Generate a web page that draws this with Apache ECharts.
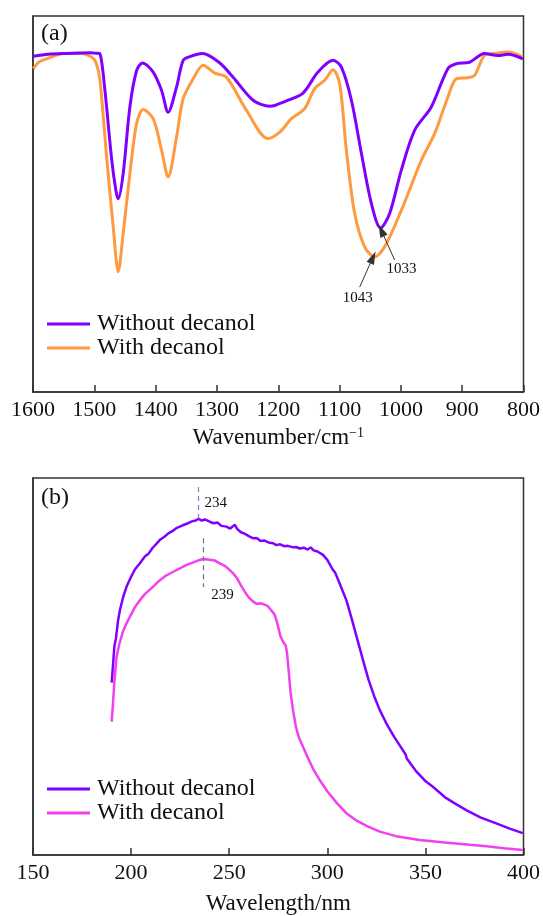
<!DOCTYPE html>
<html>
<head>
<meta charset="utf-8">
<script src="https://cdn.jsdelivr.net/npm/echarts@6/dist/echarts.min.js"></script>
<style>
html,body{margin:0;padding:0;background:#fff;}
#chart{width:543px;height:916px;}
</style>
</head>
<body>
<div id="chart"></div>
<script>
// ---- Panel (a): FTIR ----
const ftirTicks = [1600, 1500, 1400, 1300, 1200, 1100, 1000, 900, 800];
const ftirWnWithout = [1599.5,1575,1551,1507,1496,1491,1482.7,1471.8,1464.8,1461,1452.9,1442,1431,1421.3,1404,1390.3,1379.6,1365.9,1355.1,1344.2,1323.5,1295.3,1273.6,1241,1213.9,1205.7,1184,1159.6,1135.2,1110.7,1097,1080.7,1064.4,1048.2,1033,1018.3,999.3,977.6,950.4,923.4,909.7,888,863.6,841.9,825.6,801.2];
const ftirWithout   = [89.3,89.8,90.0,90.2,90.1,90.0,80.2,62.0,53.6,51.4,58.1,75.8,85.5,87.5,85.1,80.2,74.4,81.1,88.2,89.2,90.0,87.5,83.7,77.6,76.0,76.2,77.6,79.5,85.1,88.2,86.4,77.6,63.5,50.2,43.6,47.5,59.0,69.6,75.8,86.0,87.3,87.7,90.0,89.5,89.8,88.6];
const ftirWnWith = [1599.5,1590,1577.7,1550.6,1523.4,1504.4,1497,1490.8,1479.9,1469.2,1461,1452.9,1442,1431,1420.3,1404,1390.3,1379.6,1365.9,1355.1,1338.8,1322.5,1303.5,1284.4,1251.8,1216.6,1197.6,1178.5,1156.8,1140.6,1124.3,1110.7,1099.8,1088.9,1075.4,1059.1,1043,1026.5,999.3,966.7,945,923.4,909.7,890.8,879.8,863.6,847.3,825.6,801.2];
const ftirWith   = [86.0,87.8,88.6,90.0,90.1,89.1,87.5,82.9,62.5,43.9,32.0,42.2,58.1,71.4,75.1,72.7,64.3,57.2,67.8,78.0,83.3,86.9,84.8,83.7,74.9,67.4,69.1,72.7,75.4,80.7,82.9,85.7,82.0,64.3,47.5,38.6,35.9,38.6,48.3,61.6,68.7,78.4,83.3,83.6,84.2,89.5,90.0,90.4,89.1];
const ftirPeakLabels = ['1033', '1043'];

// ---- Panel (b): UV-vis ----
const uvTicks = [150, 200, 250, 300, 350, 400];
const uvWlWithout = [190.1,190.8,191.5,192.3,193.3,194.3,196,197.7,200,202,204.5,207,209,211,213,214.7,217,219,221,223,224.8,227,229,231,233,234.2,236,237.5,240.1,242,244,246,248.6,250.5,252.9,254,256,258,260,262.2,264,266,268,270,272.4,274,276,278,280,282.5,284,286,288,290,291.5,293,295,297.8,300,302.9,304,306,309.7,312,315,318.2,321,324,326.7,330,334,338,340,340.5,345,350,353.8,360,365,370.8,378,386.1,393,399.6];
const uvWithout   = [45.7,50.5,55.5,57.5,62,65.0,68.5,71.2,73.8,75.8,77.4,79.2,80.0,81.5,82.6,83.6,84.4,85.3,85.9,86.7,87.1,87.6,88.0,88.5,88.7,89.2,88.7,89.0,88.4,88.0,88.2,87.3,87.1,86.6,87.6,86.5,85.6,85.2,84.6,84.0,84.1,83.3,83.4,82.9,82.7,82.2,82.4,81.9,82.0,81.6,81.7,81.3,81.5,81.0,81.6,80.8,80.5,79.6,78.3,75.6,74.9,72.4,67.6,63.5,57.8,51.7,46.5,42.0,38.5,35.0,31.4,28.2,26.6,25.6,22.4,19.6,18.1,15.3,13.7,11.9,10.0,8.4,7.0,5.8];
const uvWlWith = [190.1,190.8,191.5,192.6,194,196,197.7,200,202,204.5,207,210,214.7,218,221,224.8,228,231,234,236.7,239,242.7,245,248,250,252,254,256,258,260,262.2,264,266,268,269.5,271,273.2,274.5,276,277.5,278.8,279.5,280.3,281.3,282.5,284,285.5,287.6,290,293,296.1,300,305,309.7,315,320,326.7,335,347,360,372.5,380,390,399.6];
const uvWith   = [35.4,40.5,46,52.6,56.0,59.5,61.5,63.8,65.8,67.6,69.2,70.6,72.9,74.2,75.0,76.0,76.9,77.5,78.1,78.5,78.4,78.1,77.4,76.6,75.7,74.7,73.4,71.5,69.8,68.3,67.2,66.6,66.8,66.4,66.1,65.2,63.7,61.5,58.2,56.5,55.6,53.5,49,43,38.5,34.0,31.2,28.7,25.9,22.6,19.9,16.9,13.7,11.1,9.1,7.7,6.2,5.0,4.0,3.3,2.7,2.4,1.8,1.3];
const uvPeakLabels = ['234', '239'];

const seriesNames = ['Without decanol', 'With decanol'];
const FONT = "'Liberation Serif','Times New Roman',serif";
const AX = '#333333';

function pairs(xs, ys){ return xs.map((x,i)=>[x, ys[i]]); }

const chart = echarts.init(document.getElementById('chart'), null, {renderer:'canvas'});

const baseX = {
  type:'value',
  axisLine:{show:true, lineStyle:{color:AX, width:1.5}},
  axisTick:{show:true, inside:true, length:7, lineStyle:{color:AX, width:1.5}},
  axisLabel:{color:'#111', fontFamily:FONT, fontSize:22, margin:7, showMinLabel:true, showMaxLabel:true,
             formatter:v=>String(v)},
  splitLine:{show:false},
  nameLocation:'middle',
  nameTextStyle:{color:'#111', fontFamily:FONT, fontSize:23}
};
const baseY = {
  type:'value', min:0, max:100,
  axisLine:{show:true, lineStyle:{color:AX, width:1.5}},
  axisTick:{show:false}, axisLabel:{show:false}, splitLine:{show:false}
};
const legendBase = {orient:'vertical', left:47, padding:0, itemWidth:43, itemHeight:3, itemGap:0, icon:'rect',
  formatter:n=>n.split(':')[1],
  textStyle:{fontFamily:FONT, fontSize:24, color:'#111', lineHeight:24, padding:[0,0,0,2]}};

const option = {
  animation:false,
  backgroundColor:'#fff',
  grid:[
    {left:33, right:19, top:16, height:376, show:true, borderColor:AX, borderWidth:1.5, backgroundColor:'transparent'},
    {left:33, right:19, top:478, height:377, show:true, borderColor:AX, borderWidth:1.5, backgroundColor:'transparent'}
  ],
  xAxis:[
    Object.assign({}, baseX, {gridIndex:0, min:ftirTicks[ftirTicks.length-1], max:ftirTicks[0], interval:100, inverse:true,
      name:'{n|Wavenumber/cm}{s|−1}', nameGap:34,
      nameTextStyle:{color:'#111', fontFamily:FONT, fontSize:23,
        rich:{n:{fontFamily:FONT, fontSize:23, color:'#111'}, s:{fontFamily:FONT, fontSize:14, color:'#111', verticalAlign:'top', padding:[0,0,10,0]}}}}),
    Object.assign({}, baseX, {gridIndex:1, min:uvTicks[0], max:uvTicks[uvTicks.length-1], interval:50,
      name:'Wavelength/nm', nameGap:37})
  ],
  yAxis:[
    Object.assign({}, baseY, {gridIndex:0}),
    Object.assign({}, baseY, {gridIndex:1})
  ],
  legend:[
    Object.assign({}, legendBase, {top:312, data:['a:'+seriesNames[0], 'a:'+seriesNames[1]]}),
    Object.assign({}, legendBase, {top:777, data:['b:'+seriesNames[0], 'b:'+seriesNames[1]]})
  ],
  graphic:[
    {type:'text', left:41, top:22, style:{text:'(a)', fontFamily:FONT, fontSize:24, fill:'#111'}},
    {type:'text', left:41, top:486, style:{text:'(b)', fontFamily:FONT, fontSize:24, fill:'#111'}}
  ],
  series:[
    {name:'a:'+seriesNames[0], type:'line', xAxisIndex:0, yAxisIndex:0, data:pairs(ftirWnWithout, ftirWithout),
     showSymbol:false, symbol:'none', smooth:0.3, color:'#8000ff', lineStyle:{width:3, color:'#8000ff'}, z:3,
     markLine:{silent:true, symbol:['none','triangle'], symbolSize:[8,13], label:{show:false},
       lineStyle:{color:'#333', width:1, type:'solid'},
       data:[[{coord:[1010.2,35.1]},{coord:[1031.9,43.0]}]]},
     markPoint:{silent:true, symbol:'circle', symbolSize:0,
       label:{show:true, formatter:'{b}', fontFamily:FONT, fontSize:15, color:'#111', position:'inside'},
       data:[{name:ftirPeakLabels[0], coord:[998.8,32.7]}]}},
    {name:'a:'+seriesNames[1], type:'line', xAxisIndex:0, yAxisIndex:0, data:pairs(ftirWnWith, ftirWith),
     showSymbol:false, symbol:'none', smooth:0.3, color:'#ff9a40', lineStyle:{width:3, color:'#ff9a40'}, z:2,
     markLine:{silent:true, symbol:['none','triangle'], symbolSize:[8,13], label:{show:false},
       lineStyle:{color:'#333', width:1, type:'solid'},
       data:[[{coord:[1067.2,27.9]},{coord:[1045.6,35.8]}]]},
     markPoint:{silent:true, symbol:'circle', symbolSize:0,
       label:{show:true, formatter:'{b}', fontFamily:FONT, fontSize:15, color:'#111', position:'inside'},
       data:[{name:ftirPeakLabels[1], coord:[1070.5,25.0]}]}},
    {name:'b:'+seriesNames[0], type:'line', xAxisIndex:1, yAxisIndex:1, data:pairs(uvWlWithout, uvWithout),
     showSymbol:false, symbol:'none', color:'#8000ff', lineStyle:{width:2.5, color:'#8000ff'}, z:3,
     markLine:{silent:true, symbol:['none','none'], label:{show:false},
       lineStyle:{color:'#a070b8', width:1.2, type:[5,4]},
       data:[[{coord:[234.2,97.6]},{coord:[234.2,89.0]}]]},
     markPoint:{silent:true, symbol:'circle', symbolSize:0,
       label:{show:true, formatter:'{b}', fontFamily:FONT, fontSize:15, color:'#111', position:'right', distance:0},
       data:[{name:uvPeakLabels[0], coord:[237.4,93.4]}]}},
    {name:'b:'+seriesNames[1], type:'line', xAxisIndex:1, yAxisIndex:1, data:pairs(uvWlWith, uvWith),
     showSymbol:false, symbol:'none', color:'#f040f0', lineStyle:{width:2.5, color:'#f040f0'}, z:2,
     markLine:{silent:true, symbol:['none','none'], label:{show:false},
       lineStyle:{color:'#6070a0', width:1.2, type:[5,4]},
       data:[[{coord:[236.7,84.0]},{coord:[236.7,71.1]}]]},
     markPoint:{silent:true, symbol:'circle', symbolSize:0,
       label:{show:true, formatter:'{b}', fontFamily:FONT, fontSize:15, color:'#111', position:'right', distance:0},
       data:[{name:uvPeakLabels[1], coord:[240.8,69.0]}]}}
  ]
};
chart.setOption(option);
</script>
</body>
</html>
